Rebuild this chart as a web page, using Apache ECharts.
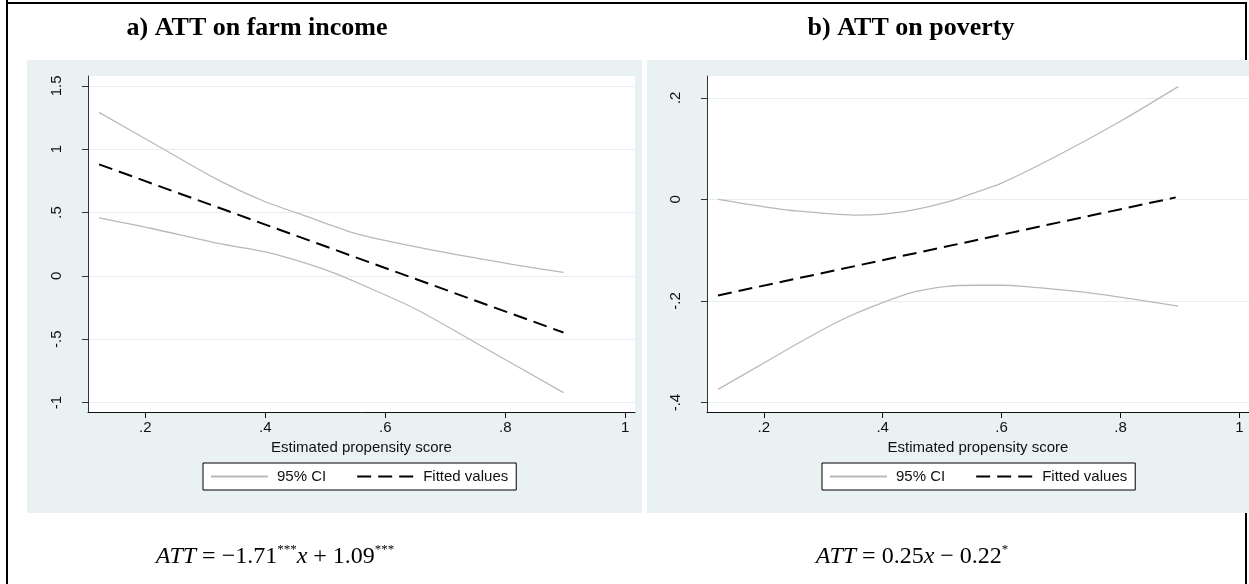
<!DOCTYPE html>
<html><head><meta charset="utf-8">
<script src="https://cdn.jsdelivr.net/npm/echarts@6/dist/echarts.min.js"></script>
<style>html,body{margin:0;padding:0;background:#fff}#c{width:1249px;height:584px}</style>
</head><body><div id="c"></div>
<script>
// ---- data ----
const xTicks = [0.2, 0.4, 0.6, 0.8, 1];
const yTicksA = [-1, -0.5, 0, 0.5, 1, 1.5];
const yTicksB = [-0.4, -0.2, 0, 0.2];
const titles = ['a) ATT on farm income', 'b) ATT on poverty'];
const legendNames = ['95% CI', 'Fitted values'];
const xName = 'Estimated propensity score';

const fitA = [[0.123, 0.88], [0.897, -0.447]];
const ciUpperA = [[0.123, 1.29], [0.233, 0.993], [0.322, 0.756], [0.4, 0.585], [0.455, 0.493], [0.541, 0.348], [0.597, 0.282], [0.708, 0.177], [0.819, 0.085], [0.897, 0.027]];
const ciLowerA = [[0.123, 0.458], [0.211, 0.374], [0.322, 0.256], [0.4, 0.19], [0.455, 0.118], [0.516, 0.02], [0.566, -0.08], [0.652, -0.265], [0.763, -0.561], [0.897, -0.921]];

const fitB = [[0.123, -0.189], [0.893, 0.004]];
const ciUpperB = [[0.123, 0.0], [0.203, -0.015], [0.259, -0.023], [0.359, -0.031], [0.436, -0.024], [0.509, -0.005], [0.559, 0.015], [0.598, 0.031], [0.692, 0.085], [0.803, 0.156], [0.897, 0.222]];
const ciLowerB = [[0.123, -0.374], [0.203, -0.32], [0.287, -0.264], [0.342, -0.231], [0.398, -0.204], [0.453, -0.182], [0.509, -0.171], [0.559, -0.169], [0.598, -0.169], [0.637, -0.171], [0.748, -0.184], [0.897, -0.21]];

// ---- styling ----
const SANS = '"Liberation Sans", Arial, sans-serif';
const SERIF = '"Liberation Serif", "Times New Roman", serif';
const PANEL = '#e9f1f3';
const GRIDLINE = '#e6eef1';
const CI_COLOR = '#b9b9b9';

function fmt(v) {
  if (Math.abs(v) < 1e-9) return '0';
  let s = String(Math.round(v * 100) / 100);
  return s.replace(/^(-?)0\./, '$1.');
}

function xAxisFor(gi) {
  return {
    type: 'value', gridIndex: gi, min: 0.1045, max: 1.0162,
    name: xName, nameLocation: 'middle', nameGap: 24,
    nameTextStyle: { fontFamily: SANS, fontSize: 15, color: '#111' },
    axisLine: { show: true, onZero: false, lineStyle: { color: '#111', width: 1 } },
    axisTick: { show: true, length: 6, customValues: xTicks, lineStyle: { color: '#111' } },
    axisLabel: { customValues: xTicks, formatter: fmt, margin: 8, fontFamily: SANS, fontSize: 15, color: '#111' },
    splitLine: { show: false }
  };
}
function yAxisFor(gi, mn, mx, ticks) {
  return {
    type: 'value', gridIndex: gi, min: mn, max: mx,
    axisLine: { show: true, onZero: false, lineStyle: { color: '#333', width: 1 } },
    axisTick: { show: true, length: 6, customValues: ticks, lineStyle: { color: '#333' } },
    axisLabel: { customValues: ticks, formatter: fmt, rotate: 90, margin: 24, fontFamily: SANS, fontSize: 15, color: '#111' },
    splitLine: { show: true, lineStyle: { color: GRIDLINE, width: 1.2 } }
  };
}
function ciSeries(data, xi) {
  return { name: legendNames[0], type: 'line', xAxisIndex: xi, yAxisIndex: xi, data: data, smooth: 0.3,
    symbol: 'none', lineStyle: { color: CI_COLOR, width: 1.3 }, itemStyle: { color: CI_COLOR }, z: 3, silent: true };
}
function fitSeries(data, xi) {
  return { name: legendNames[1], type: 'line', xAxisIndex: xi, yAxisIndex: xi, data: data,
    symbol: 'none', lineStyle: { color: '#000', width: 2, type: [14, 7] }, itemStyle: { color: '#000' }, z: 4, silent: true };
}
function legendFor(left) {
  return {
    data: legendNames, left: left, top: 463, orient: 'horizontal',
    itemWidth: 57, itemHeight: 14, itemGap: 30, padding: [6, 8, 6, 7],
    backgroundColor: '#fff', borderColor: '#000', borderWidth: 1, borderRadius: 0,
    itemStyle: { opacity: 0 },
    textStyle: { fontFamily: SANS, fontSize: 15, color: '#111', padding: [0, 0, 0, 4] },
    selectedMode: false
  };
}

const chart = echarts.init(document.getElementById('c'), null, { renderer: 'canvas' });
chart.setOption({
  backgroundColor: '#fff',
  animation: false,
  graphic: [
    { type: 'line', z: -20, shape: { x1: 7, y1: 0, x2: 7, y2: 584 }, style: { stroke: '#000', lineWidth: 2 } },
    { type: 'line', z: -20, shape: { x1: 6, y1: 3, x2: 1246, y2: 3 }, style: { stroke: '#000', lineWidth: 2 } },
    { type: 'line', z: -20, shape: { x1: 1246, y1: 2, x2: 1246, y2: 584 }, style: { stroke: '#000', lineWidth: 2 } },
    { type: 'rect', z: -10, shape: { x: 27, y: 60, width: 615, height: 453 }, style: { fill: PANEL } },
    { type: 'rect', z: -10, shape: { x: 647, y: 60, width: 602, height: 453 }, style: { fill: PANEL } },
    { type: 'text', x: 257, y: 28, style: { text: titles[0], font: 'bold 26px ' + SERIF, fill: '#000', textAlign: 'center', textVerticalAlign: 'middle' } },
    { type: 'text', x: 911, y: 28, style: { text: titles[1], font: 'bold 26px ' + SERIF, fill: '#000', textAlign: 'center', textVerticalAlign: 'middle' } },
    { type: 'text', x: 275, y: 557, style: {
        text: '{i|ATT} = \u22121.71{s|***}{i|x} + 1.09{s|***}',
        font: '24px ' + SERIF, fill: '#000', textAlign: 'center', textVerticalAlign: 'middle',
        rich: { i: { fontStyle: 'italic', fontSize: 24, fontFamily: SERIF, lineHeight: 28 }, s: { fontSize: 13, fontFamily: SERIF, verticalAlign: 'top', lineHeight: 28 } }
    } },
    { type: 'text', x: 912, y: 557, style: {
        text: '{i|ATT} = 0.25{i|x} \u2212 0.22{s|*}',
        font: '24px ' + SERIF, fill: '#000', textAlign: 'center', textVerticalAlign: 'middle',
        rich: { i: { fontStyle: 'italic', fontSize: 24, fontFamily: SERIF, lineHeight: 28 }, s: { fontSize: 13, fontFamily: SERIF, verticalAlign: 'top', lineHeight: 28 } }
    } }
  ],
  grid: [
    { left: 88, top: 76, width: 547, height: 336, show: true, backgroundColor: '#fff', borderWidth: 0, containLabel: false },
    { left: 707, top: 76, width: 547, height: 336, show: true, backgroundColor: '#fff', borderWidth: 0, containLabel: false }
  ],
  xAxis: [xAxisFor(0), xAxisFor(1)],
  yAxis: [yAxisFor(0, -1.0742, 1.5774, yTicksA), yAxisFor(1, -0.4185, 0.243, yTicksB)],
  legend: [legendFor(203), legendFor(822)],
  series: [
    ciSeries(ciUpperA, 0), ciSeries(ciLowerA, 0), fitSeries(fitA, 0),
    ciSeries(ciUpperB, 1), ciSeries(ciLowerB, 1), fitSeries(fitB, 1)
  ]
});
</script>
</body></html>
